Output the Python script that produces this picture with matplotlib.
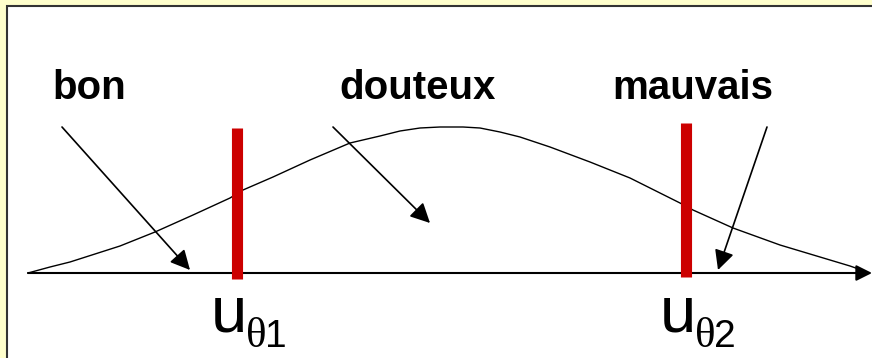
import matplotlib
matplotlib.use("Agg")
import matplotlib.pyplot as plt
from matplotlib.patches import Rectangle

# curve: x position and height above the axis
curve_x = [28, 50, 70, 95, 120, 155, 193, 230, 243, 273, 310, 350, 380, 400, 420,
           440, 463, 480, 500, 520, 550, 590, 630, 680, 693, 733, 780, 830, 850, 867]
curve_h = [0, 6, 11, 19, 27, 41, 58, 75, 83, 96, 113, 130, 137, 142, 145,
           146, 146, 145, 141, 136, 126, 111, 95, 70, 63, 45, 28, 13, 7, 1]

# thresholds (red bars): x, bottom, top
thresh_x = [237, 686]
thresh_lo = [-6, -4]
thresh_hi = [145, 150]
thresh_sub = ["1", "2"]

# region labels and their arrows (start -> tip)
labels = ["bon", "douteux", "mauvais"]
label_x = [52, 339, 612]
arrow_start = [(62, 146), (333, 146), (767, 146)]
arrow_tip = [(190, 3), (430, 50), (718, 3)]

W, H = 872, 358
AXIS_Y = 273  # pixel row of the horizontal axis

fig = plt.figure(figsize=(W / 100, H / 100), dpi=100, facecolor="#FFFFCC")
ax = fig.add_axes([0, 0, 1, 1])
ax.set_xlim(0, W)
ax.set_ylim(AXIS_Y - H, AXIS_Y)
ax.axis("off")

# white panel with dark border
ax.add_patch(Rectangle((7, AXIS_Y - H - 20), W + 20, H - 6 + 20,
                       facecolor="white", edgecolor="#333333", lw=1.5, zorder=0))

# axis with arrow
ax.annotate("", xy=(W, 0), xytext=(28, 0),
            arrowprops=dict(arrowstyle="-|>", color="black", lw=1.5,
                            mutation_scale=24, shrinkA=0, shrinkB=0))

ax.plot(curve_x, curve_h, color="black", lw=1.0, zorder=2)

for x, lo, hi, s in zip(thresh_x, thresh_lo, thresh_hi, thresh_sub):
    ax.plot([x, x], [lo, hi], color="#CC0000", lw=8, solid_capstyle="butt", zorder=3)
    ax.text(x - 26, AXIS_Y - 332, "u", fontsize=47, family="Liberation Sans",
            ha="left", va="baseline")
    ax.text(x + 9, AXIS_Y - 347, "θ", fontsize=31, family="Liberation Serif",
            ha="left", va="baseline")
    ax.text(x + 28, AXIS_Y - 347, s, fontsize=28, family="Liberation Sans",
            ha="left", va="baseline")

for lab, lx, st, tip in zip(labels, label_x, arrow_start, arrow_tip):
    ax.text(lx, AXIS_Y - 99, lab, fontsize=29, fontweight="bold",
            family="Liberation Sans", ha="left", va="baseline")
    ax.annotate("", xy=tip, xytext=st,
                arrowprops=dict(arrowstyle="-|>", color="black", lw=1.2,
                                mutation_scale=30, shrinkA=0, shrinkB=0), zorder=4)

fig.savefig("out.png", dpi=100, facecolor=fig.get_facecolor())
